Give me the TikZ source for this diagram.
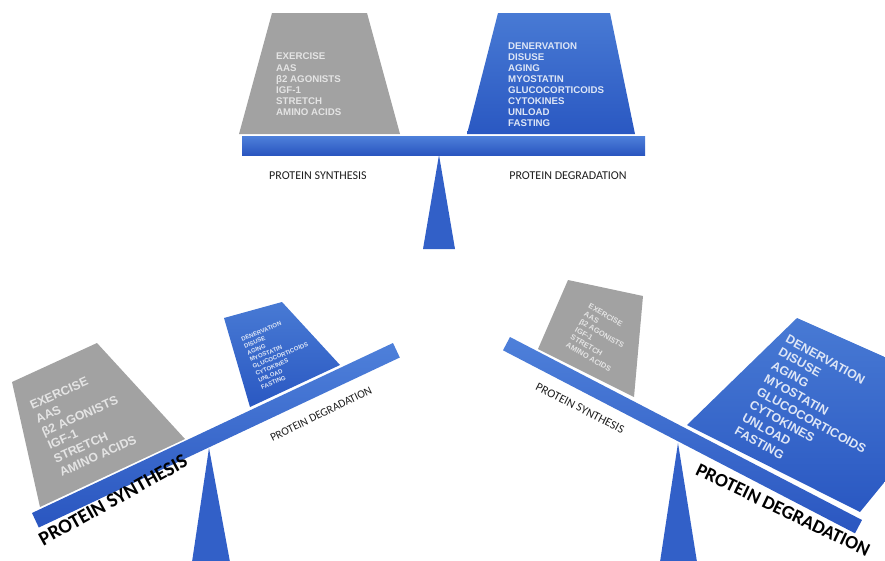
\documentclass[tikz,border=0pt]{standalone}
\usepackage{fontspec}
\setmainfont{Liberation Sans}
\newfontfamily\labelfont{Carlito}

\definecolor{pivotblue}{RGB}{50,96,200}
\definecolor{beamtop}{RGB}{78,128,218}
\definecolor{beambot}{RGB}{42,86,192}
\definecolor{loadtop}{RGB}{72,122,212}
\definecolor{loadbot}{RGB}{42,88,194}
\definecolor{boxgray}{RGB}{162,162,162}
\definecolor{graytext}{RGB}{228,228,228}
\definecolor{bluetext}{RGB}{222,230,246}
\definecolor{labeltext}{RGB}{30,30,30}

\newcommand\synthlist{EXERCISE\\AAS\\β2 AGONISTS\\IGF-1\\STRETCH\\AMINO ACIDS}
\newcommand\degrlist{DENERVATION\\DISUSE\\AGING\\MYOSTATIN\\GLUCOCORTICOIDS\\CYTOKINES\\UNLOAD\\FASTING}

\tikzset{
  beam/.style={top color=beamtop, bottom color=beambot, draw=none},
  pivot/.style={fill=pivotblue, draw=none},
  loadgray/.style={fill=boxgray, draw=none},
  loadblue/.style={top color=loadtop, bottom color=loadbot, draw=none},
  factors/.style={align=left, inner sep=0pt, anchor=north west},
  synthtext/.style={factors, text=graytext},
  degrtext/.style={factors, text=bluetext},
  sidelabel/.style={inner sep=0pt, text=labeltext, font=\labelfont\fontsize{12}{14}\selectfont},
  biglabel/.style={inner sep=0pt, text=black, font=\labelfont\bfseries\fontsize{20}{24}\selectfont},
}

\begin{document}
\begin{tikzpicture}[x=1pt, y=-1pt]
  \useasboundingbox (0,0) rectangle (885,560);
  \clip (0,0) rectangle (885,560);

  % ---------- balanced scale (top) ----------
  \path[loadgray] (239,134) -- (272,13) -- (367,13) -- (400,134) -- cycle;
  \path[loadblue] (467,134) -- (498,13) -- (610,13) -- (635,134) -- cycle;
  \path[beam] (242,136) rectangle (645,155);
  \path[pivot] (439,155) -- (455,249) -- (423,249) -- cycle;
  \node[synthtext, font=\bfseries\fontsize{9.7}{11.2}\selectfont] (topsyn) at (276,53) {\synthlist};
  \node[degrtext, font=\bfseries\fontsize{9.7}{11}\selectfont] (topdeg) at (508,43) {\degrlist};
  \node[sidelabel] (topsynlab) at (318,175.5) {PROTEIN SYNTHESIS};
  \node[sidelabel] (topdeglab) at (568,175.5) {PROTEIN DEGRADATION};

  % ---------- synthesis outweighs degradation (bottom left) ----------
  \path[loadgray] (40,507) -- (12,382) -- (97,343) -- (185,439) -- cycle;
  \path[loadblue] (250,407) -- (224,318) -- (282,302) -- (340,365) -- cycle;
  \path[beam] (32,513) -- (393,343) -- (399.8,357.5) -- (38.8,527.5) -- cycle;
  \path[pivot] (209,448) -- (230,562) -- (192,562) -- cycle;
  \node[synthtext, rotate=24, font=\bfseries\fontsize{12.3}{14.6}\selectfont] (lsyn) at (28.5,402) {\synthlist};
  \node[degrtext, rotate=22.5, font=\bfseries\fontsize{6}{7.4}\selectfont] (ldeg) at (240.5,337.5) {\degrlist};
  \node[sidelabel, rotate=26, font=\labelfont\fontsize{11.4}{13}\selectfont] (ldeglab) at (321,414) {PROTEIN DEGRADATION};
  \node[biglabel, rotate=29] (lsynlab) at (113,500) {PROTEIN SYNTHESIS};

  % ---------- degradation outweighs synthesis (bottom right) ----------
  \path[loadgray] (538,349) -- (568,280) -- (643,296) -- (634,397) -- cycle;
  \path[loadblue] (687,425) -- (797,318) -- (905,366) -- (905,457) -- (860,512) -- cycle;
  \path[beam] (510,337) -- (862,520) -- (855,533.3) -- (503,350.3) -- cycle;
  \path[pivot] (678,443) -- (697,562) -- (660,562) -- cycle;
  \node[synthtext, rotate=-30, font=\bfseries\fontsize{7.5}{9}\selectfont] (rsyn) at (590.5,303) {\synthlist};
  \node[degrtext, rotate=-29, font=\bfseries\fontsize{12.4}{15}\selectfont] (rdeg) at (789,334) {\degrlist};
  \node[sidelabel, rotate=-27] (rsynlab) at (580,408) {PROTEIN SYNTHESIS};
  \node[biglabel, rotate=-25.6, font=\labelfont\bfseries\fontsize{19}{23}\selectfont] (rdeglab) at (783,510) {PROTEIN DEGRADATION};
\end{tikzpicture}
\end{document}
